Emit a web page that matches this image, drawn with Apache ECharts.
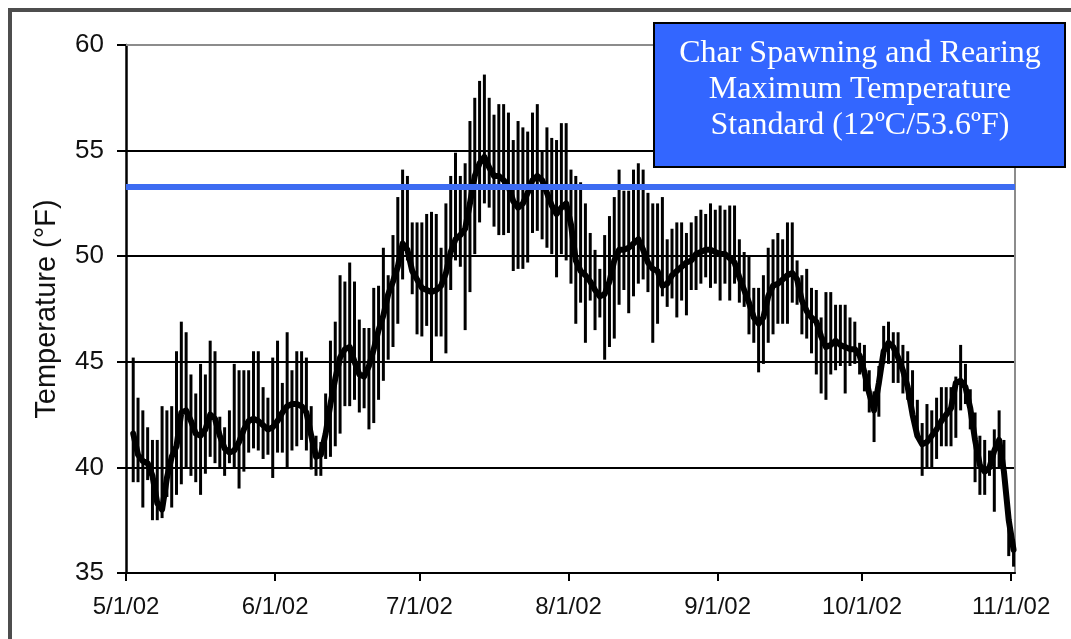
<!DOCTYPE html>
<html lang="en">
<head>
<meta charset="UTF-8">
<title>Char Spawning and Rearing Temperature</title>
<script src="https://cdn.jsdelivr.net/npm/echarts@6/dist/echarts.min.js"></script>
<style>
  html, body { margin: 0; padding: 0; background: #fff; }
  #my-chart { width: 1071px; height: 639px; }
</style>
</head>
<body>
<div id="my-chart"></div>
<script>
// first reading is 5/2/02, one reading per day up to 11/1/02
const firstDay = '2002-05-02';

// month ticks on the x axis
const monthTicks = ['2002-05-01', '2002-06-01', '2002-07-01', '2002-08-01', '2002-09-01', '2002-10-01', '2002-11-01'];
const tickLabels = ['5/1/02', '6/1/02', '7/1/02', '8/1/02', '9/1/02', '10/1/02', '11/1/02'];

const yTicks = [35, 40, 45, 50, 55, 60];
const standardF = 53.3;
const boxLines = ['Char Spawning and Rearing', 'Maximum Temperature', 'Standard (12ºC/53.6ºF)'];

// daily mean temperature (F)
const meanTemp = [
  // May
  41.6, 40.6, 40.3, 40.2, 39.6, 38.3, 38.0, 39.5, 40.5, 41.0, 42.6, 42.7, 42.2, 41.6, 41.5,
  41.8, 42.5, 42.3, 41.5, 40.9, 40.7, 40.8, 41.2, 41.8, 42.2, 42.3, 42.2, 42.0, 41.8, 41.9,
  // June
  42.2, 42.6, 42.9, 43.0, 43.0, 42.9, 42.6, 41.5, 40.5, 40.6, 41.6, 43.0, 44.2, 45.2, 45.6,
  45.7, 45.0, 44.4, 44.3, 44.8, 45.6, 46.5, 47.2, 48.2, 48.8, 49.5, 50.6, 50.3, 49.3, 48.9,
  // July
  48.5, 48.4, 48.3, 48.4, 48.6, 49.2, 50.2, 50.8, 51.0, 51.3, 52.5, 53.8, 54.4, 54.7, 54.2,
  53.8, 53.8, 53.6, 53.3, 52.6, 52.3, 52.5, 53.0, 53.6, 53.8, 53.6, 53.0, 52.4, 52.0, 52.3, 52.5,
  // August
  51.5, 49.8, 49.3, 49.1, 48.8, 48.4, 48.1, 48.2, 48.8, 49.8, 50.3, 50.3, 50.4, 50.6, 50.8,
  50.3, 49.7, 49.4, 49.3, 48.6, 48.7, 49.1, 49.3, 49.5, 49.7, 49.8, 50.1, 50.2, 50.3, 50.3, 50.2,
  // September
  50.1, 50.1, 49.9, 49.7, 49.0, 48.4, 47.8, 47.1, 46.8, 47.1, 48.1, 48.6, 48.7, 48.9, 49.1,
  49.2, 48.9, 47.9, 47.4, 47.1, 46.9, 46.2, 45.7, 45.8, 46.0, 45.8, 45.7, 45.6, 45.6, 45.3,
  // October + 11/1
  44.5, 43.5, 42.7, 44.0, 45.5, 45.9, 45.7, 45.2, 44.6, 43.8, 42.5, 41.5, 41.1, 41.2, 41.5,
  41.8, 42.2, 42.5, 42.8, 44.0, 44.1, 43.8, 42.8, 41.3, 40.1, 39.8, 40.0, 40.8, 41.3, 39.8, 37.5,
  36.1
];

// daily maximum
const maxTemp = [
  45.2, 43.3, 42.7, 41.9, 41.3, 41.3, 42.9, 42.7, 42.9, 45.5, 46.9, 46.4, 44.4, 43.5, 44.9,
  44.4, 46.0, 45.5, 42.4, 41.9, 42.7, 44.9, 44.6, 44.6, 44.6, 45.5, 45.5, 43.8, 43.3, 45.2,
  46.0, 44.0, 46.4, 44.6, 45.5, 45.5, 45.2, 42.9, 41.5, 41.2, 43.5, 46.0, 46.9, 49.1, 48.8,
  49.7, 48.8, 47.0, 46.6, 46.6, 48.5, 48.6, 50.4, 49.1, 51.0, 52.8, 54.1, 53.8, 51.6, 51.6,
  51.6, 52.0, 52.1, 52.0, 50.4, 52.5, 53.8, 54.9, 53.8, 54.4, 56.4, 57.5, 58.3, 58.6, 57.5,
  56.7, 57.2, 57.2, 56.8, 55.5, 56.4, 56.1, 55.9, 56.8, 57.2, 55.0, 56.1, 55.6, 55.5, 56.3, 56.3,
  54.1, 53.8, 53.5, 52.5, 51.1, 50.3, 49.4, 51.0, 51.9, 52.8, 54.1, 53.1, 53.1, 54.1, 54.4,
  54.1, 53.0, 52.5, 52.5, 52.8, 50.8, 51.3, 51.6, 51.6, 51.1, 51.6, 51.9, 52.2, 52.0, 52.5, 52.2,
  52.4, 52.2, 52.4, 52.4, 50.8, 50.2, 50.0, 48.5, 48.5, 49.1, 50.4, 50.8, 51.1, 50.8, 51.6,
  51.6, 49.8, 49.1, 49.4, 48.5, 48.4, 47.1, 48.3, 48.3, 47.7, 47.7, 47.7, 47.1, 46.9, 45.9,
  45.8, 44.6, 43.6, 44.8, 46.7, 46.9, 46.4, 46.4, 45.8, 45.5, 44.6, 43.2, 42.1, 43.0, 42.7,
  43.3, 43.8, 43.8, 43.8, 44.3, 45.8, 44.9, 43.7, 42.6, 41.5, 41.3, 40.8, 41.8, 42.7, 41.3, 37.9,
  36.6
];

// daily minimum
const minTemp = [
  39.3, 39.3, 38.1, 39.4, 37.5, 37.5, 37.6, 38.6, 38.1, 38.7, 39.2, 40.0, 39.6, 39.3, 38.7,
  39.7, 40.5, 40.2, 40.0, 39.6, 40.2, 40.0, 39.0, 39.8, 40.7, 40.9, 40.8, 40.4, 40.6, 39.5,
  40.7, 40.7, 40.0, 40.8, 41.0, 41.3, 40.8, 39.9, 39.6, 39.6, 40.4, 40.5, 41.0, 41.6, 42.9,
  42.9, 43.2, 42.6, 42.8, 41.8, 42.1, 43.2, 44.1, 45.1, 45.7, 46.8, 48.9, 49.8, 48.2, 46.3,
  46.2, 46.7, 45.0, 46.2, 46.2, 45.4, 48.4, 49.8, 49.5, 46.5, 48.3, 50.1, 51.6, 52.5, 52.3,
  51.4, 51.0, 51.0, 51.1, 49.3, 49.4, 49.4, 49.7, 51.1, 51.2, 50.8, 50.4, 50.1, 49.0, 50.1, 49.8,
  48.7, 46.8, 47.8, 45.9, 47.9, 46.5, 47.1, 45.1, 45.7, 46.1, 47.7, 48.4, 47.3, 48.1, 48.7,
  48.9, 48.3, 45.9, 46.8, 48.1, 47.6, 48.0, 47.1, 47.9, 47.2, 48.4, 48.4, 48.7, 49.0, 48.5, 48.7,
  47.9, 48.7, 47.9, 48.7, 47.8, 47.6, 46.3, 45.9, 44.5, 44.9, 45.9, 46.3, 46.8, 46.8, 46.8,
  47.8, 47.7, 46.3, 46.1, 45.4, 44.4, 43.5, 43.2, 44.4, 44.6, 44.8, 43.5, 44.8, 44.9, 44.4,
  43.6, 42.6, 41.2, 42.4, 44.9, 44.9, 44.0, 44.0, 43.5, 43.2, 42.4, 41.4, 39.6, 40.0, 40.0,
  40.4, 41.0, 41.0, 41.0, 41.4, 42.7, 43.0, 41.8, 39.3, 38.7, 38.7, 39.6, 37.9, 40.0, 39.3, 35.8,
  35.3
];

window.onload = function () {
  var chartDom = document.getElementById('my-chart');
  var myChart = echarts.init(chartDom);

  const font = 'Liberation Sans';
  const dayMs = 24 * 3600 * 1000;
  const t0 = Date.parse(monthTicks[0] + 'T00:00:00Z');
  // x axis counts days since 5/1/02
  const toDay = s => (Date.parse(s + 'T00:00:00Z') - t0) / dayMs;
  const tickDays = monthTicks.map(toDay);
  const xMin = 0;
  const xMax = tickDays[tickDays.length - 1] + 0.8;

  // readings plotted at midday of each day
  const start = toDay(firstDay);
  const days = meanTemp.map((v, i) => start + i + 0.5);
  const meanData = days.map((d, i) => [d, meanTemp[i]]);
  const rangeData = days.map((d, i) => [d, minTemp[i], maxTemp[i]]);

  let option = {
    animation: false,
    backgroundColor: '#fff',
    grid: { left: 126, right: 56, top: 45, bottom: 66 },
    xAxis: [
      {
        type: 'value',
        min: xMin,
        max: xMax,
        axisLine: { show: true, onZero: false, lineStyle: { color: '#000', width: 2 } },
        axisTick: { show: true, length: 8, customValues: tickDays, lineStyle: { color: '#000', width: 2 } },
        axisLabel: {
          customValues: tickDays,
          margin: 22,
          fontSize: 24,
          fontFamily: font,
          color: '#111',
          formatter: function (val) {
            let k = tickDays.indexOf(val);
            return k >= 0 ? tickLabels[k] : '';
          }
        },
        splitLine: { show: false }
      },
      {
        // gray plot border on top
        type: 'value',
        position: 'top',
        min: xMin,
        max: xMax,
        axisLine: { show: true, onZero: false, lineStyle: { color: '#8c8c8c', width: 2 } },
        axisTick: { show: false },
        axisLabel: { show: false },
        splitLine: { show: false }
      }
    ],
    yAxis: [
      {
        type: 'value',
        min: yTicks[0],
        max: yTicks[yTicks.length - 1],
        interval: 5,
        name: 'Temperature (°F)',
        nameLocation: 'middle',
        nameGap: 65,
        nameTextStyle: { fontSize: 29, fontFamily: font, color: '#111' },
        axisLine: { show: true, onZero: false, lineStyle: { color: '#000', width: 2.5 } },
        axisTick: { show: true, length: 9, lineStyle: { color: '#000', width: 2 } },
        axisLabel: { fontSize: 26, fontFamily: font, color: '#111', margin: 22 },
        splitLine: { show: true, showMinLine: false, showMaxLine: false, lineStyle: { color: '#000', width: 2 } }
      },
      {
        // gray plot border on the right
        type: 'value',
        position: 'right',
        min: yTicks[0],
        max: yTicks[yTicks.length - 1],
        interval: 5,
        axisLine: { show: true, onZero: false, lineStyle: { color: '#8c8c8c', width: 2 } },
        axisTick: { show: false },
        axisLabel: { show: false },
        splitLine: { show: false }
      }
    ],
    series: [
      {
        name: 'Daily range',
        type: 'custom',
        xAxisIndex: 0,
        yAxisIndex: 0,
        encode: { x: 0, y: [1, 2] },
        renderItem: function (params, api) {
          let lo = api.coord([api.value(0), api.value(1)]);
          let hi = api.coord([api.value(0), api.value(2)]);
          return {
            type: 'line',
            shape: { x1: lo[0], y1: lo[1], x2: hi[0], y2: hi[1] },
            style: { stroke: '#000', lineWidth: 3 }
          };
        },
        data: rangeData,
        z: 2
      },
      {
        name: 'Daily mean',
        type: 'line',
        xAxisIndex: 0,
        yAxisIndex: 0,
        showSymbol: false,
        symbol: 'none',
        lineStyle: { color: '#000', width: 6, join: 'round', cap: 'round' },
        data: meanData,
        z: 3,
        markLine: {
          silent: true,
          symbol: 'none',
          label: { show: false },
          lineStyle: { color: '#3d6cf2', width: 6, type: 'solid' },
          data: [{ yAxis: standardF }],
          z: 5
        }
      }
    ],
    graphic: [
      {
        type: 'rect',
        shape: { x: 10, y: 10, width: 1100, height: 700 },
        style: { fill: 'none', stroke: '#4d4d4d', lineWidth: 4 },
        z: 0
      },
      {
        type: 'rect',
        shape: { x: 654, y: 23, width: 411, height: 144 },
        style: { fill: '#3366ff', stroke: '#000', lineWidth: 2 },
        z: 100
      },
      {
        type: 'text',
        x: 860,
        y: 36,
        style: {
          text: boxLines.join('\n'),
          fill: '#fff',
          font: '32px "Liberation Serif"',
          align: 'center',
          verticalAlign: 'top',
          lineHeight: 36
        },
        z: 101
      }
    ]
  };

  myChart.setOption(option);
};
</script>
</body>
</html>
